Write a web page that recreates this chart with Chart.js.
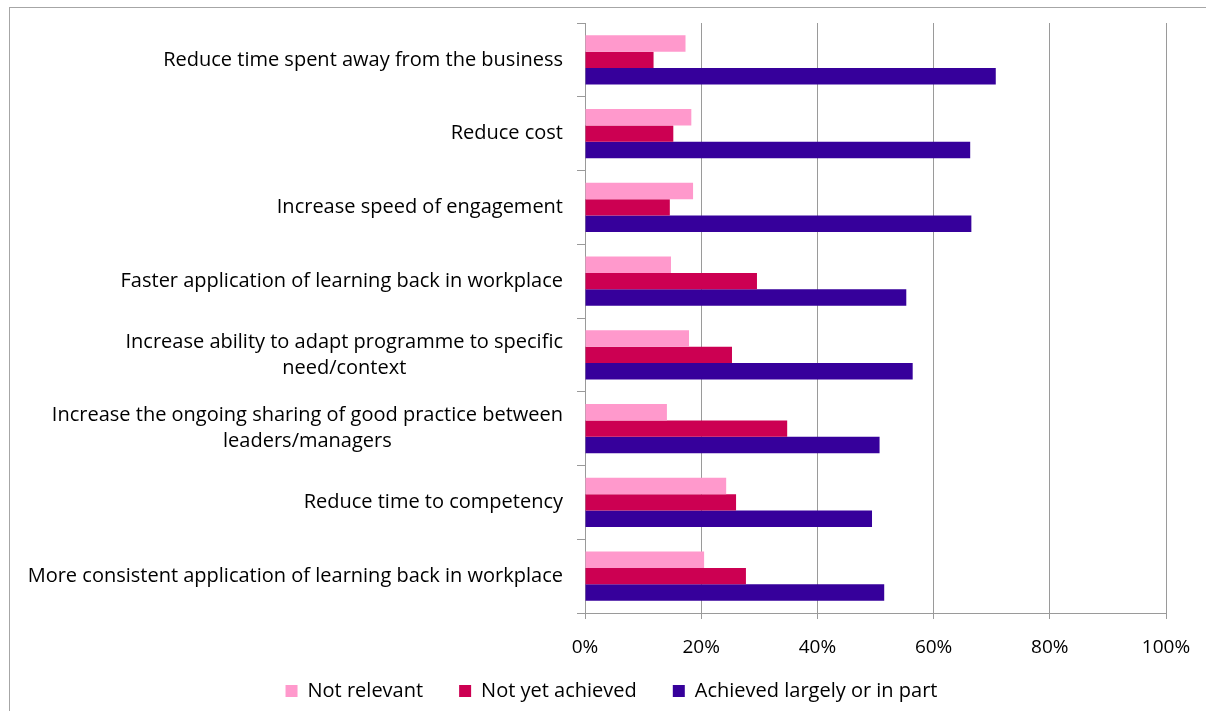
<!DOCTYPE html>
<html>
<head>
<meta charset="utf-8">
<title>Benefits</title>
<script src="https://cdn.jsdelivr.net/npm/chart.js@4.4.1/dist/chart.umd.min.js"></script>
<style>
  html, body { margin: 0; padding: 0; background: #fff; overflow: hidden; }
  #wrap { position: relative; width: 1206px; height: 711px; }
  #frame {
    position: absolute; left: 9px; top: 7px; width: 1300px; height: 800px;
    border-top: 1px solid #a6a6a6; border-left: 1px solid #a6a6a6;
  }
  #chart { position: absolute; left: 0; top: 0; }
</style>
</head>
<body>
<div id="wrap">
  <div id="frame"></div>
  <canvas id="chart" width="1206" height="711"></canvas>
</div>
<script>
// categories (multi-line ones are arrays)
const categories = [
    'Reduce time spent away from the business',
    'Reduce cost',
    'Increase speed of engagement',
    'Faster application of learning back in workplace',
    ['Increase ability to adapt programme to specific', 'need/context'],
    ['Increase the ongoing sharing of good practice between', 'leaders/managers'],
    'Reduce time to competency',
    'More consistent application of learning back in workplace'
];

// percentages per series
const notRelevant    = [17.3, 18.3, 18.6, 14.8, 17.9, 14.1, 24.3, 20.5];
const notYetAchieved = [11.8, 15.2, 14.6, 29.6, 25.3, 34.8, 26.0, 27.7];
const achieved       = [70.7, 66.3, 66.5, 55.3, 56.4, 50.7, 49.4, 51.5];

const xTicks = [0, 20, 40, 60, 80, 100];

const FONT = 'Open Sans';
const gridGrey = '#9a9a9a';

// category labels: block right-aligned, lines centred on each other;
// x tick labels drawn under the axis so they can sit close to the legend
const axisLabels = {
    id: 'axisLabels',
    afterDraw(chart) {
        const ctx = chart.ctx;
        const yScale = chart.scales.y;
        const xScale = chart.scales.x;
        const rightEdge = yScale.right - 22;
        const lineH = 26;
        ctx.save();
        ctx.fillStyle = '#000';
        ctx.textAlign = 'center';
        ctx.textBaseline = 'middle';

        ctx.font = `20px "${FONT}"`;
        categories.forEach((label, i) => {
            const lines = Array.isArray(label) ? label : [label];
            const maxW = Math.max(...lines.map(l => ctx.measureText(l).width));
            const cx = rightEdge - maxW / 2;
            const cy = yScale.getPixelForValue(i);
            lines.forEach((line, j) => {
                ctx.fillText(line, cx, cy + (j - (lines.length - 1) / 2) * lineH);
            });
        });

        ctx.font = `19px "${FONT}"`;
        xTicks.forEach(v => {
            ctx.fillText(v + '%', xScale.getPixelForValue(v), xScale.top + 35);
        });
        ctx.restore();
    }
};

const ctx = document.getElementById('chart').getContext('2d');
const chart = new Chart(ctx, {
    type: 'bar',
    data: {
        labels: categories,
        datasets: [
            { label: 'Not relevant', data: notRelevant, backgroundColor: '#ff99cc' },
            { label: 'Not yet achieved', data: notYetAchieved, backgroundColor: '#cc0052' },
            { label: 'Achieved largely or in part', data: achieved, backgroundColor: '#36009b' }
        ]
    },
    plugins: [axisLabels],
    options: {
        indexAxis: 'y',
        responsive: false,
        animation: false,
        layout: { padding: { top: 23, left: 57, right: 40, bottom: 0 } },
        datasets: { bar: { categoryPercentage: 0.665, barPercentage: 1 } },
        scales: {
            x: {
                min: 0,
                max: 100,
                afterBuildTicks(scale) {
                    scale.ticks = xTicks.map(v => ({ value: v }));
                },
                ticks: { display: false },
                grid: { color: gridGrey, tickLength: 6 },
                border: { color: gridGrey },
                afterFit(scale) { scale.height = 32; }
            },
            y: {
                ticks: { display: false },
                grid: { offset: true, drawOnChartArea: false, color: gridGrey, tickLength: 8 },
                border: { color: gridGrey },
                afterFit(scale) { scale.width = 585 - 57; }
            }
        },
        plugins: {
            tooltip: { enabled: false },
            legend: {
                position: 'bottom',
                labels: {
                    boxWidth: 12,
                    boxHeight: 12,
                    padding: 36,
                    color: '#000',
                    font: { family: FONT, size: 20 }
                }
            }
        }
    }
});
</script>
</body>
</html>
